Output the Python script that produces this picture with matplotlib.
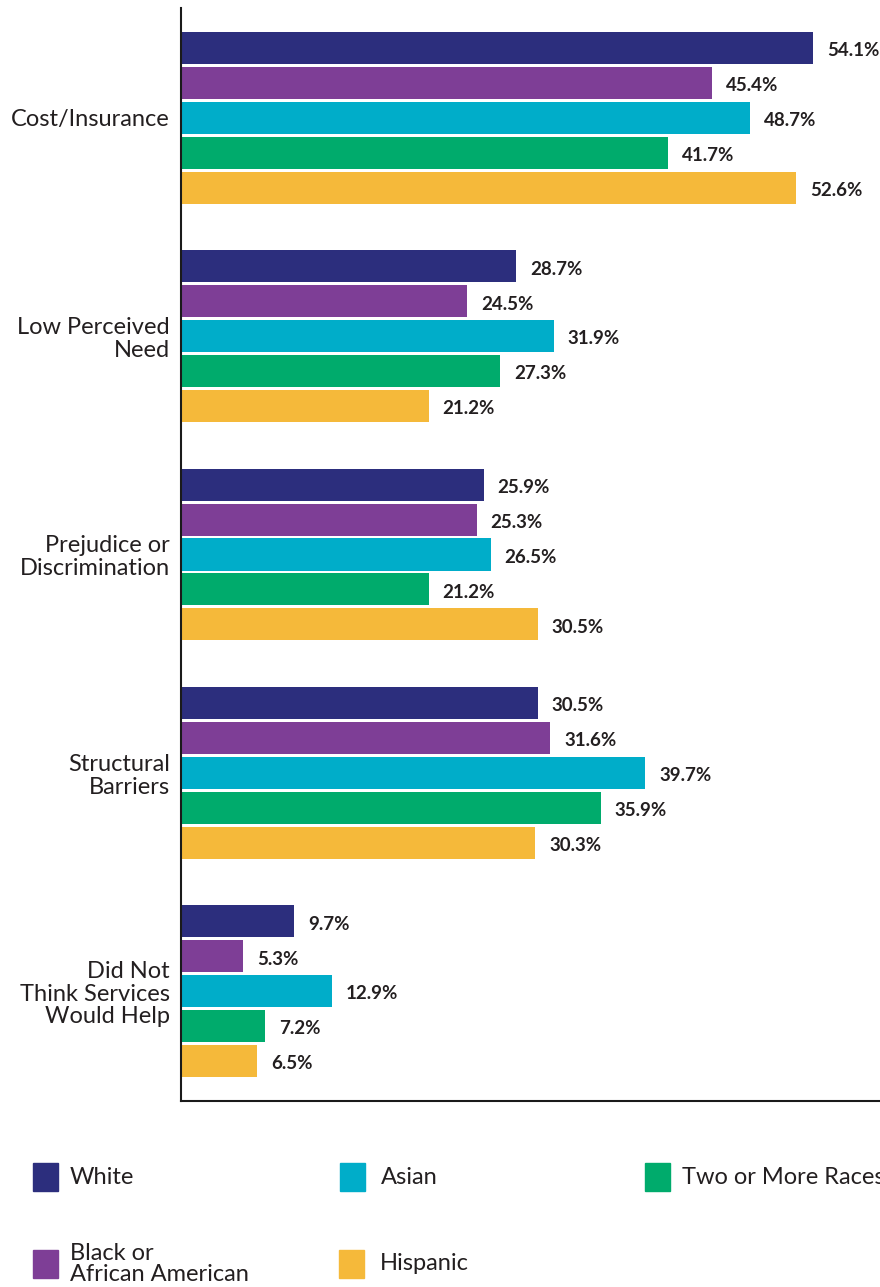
import numpy as np
import matplotlib
matplotlib.use("Agg")
import matplotlib.pyplot as plt
from matplotlib.patches import Rectangle

plt.rcParams['font.family'] = ['Lato', 'DejaVu Sans']

# reasons for not getting care
categories = ["Cost/Insurance", "Low Perceived\nNeed", "Prejudice or\nDiscrimination",
              "Structural\nBarriers", "Did Not\nThink Services\nWould Help"]

groups = ["White", "Black or\nAfrican American", "Asian", "Two or More Races", "Hispanic"]
white = [54.1, 28.7, 25.9, 30.5, 9.7]
black = [45.4, 24.5, 25.3, 31.6, 5.3]
asian = [48.7, 31.9, 26.5, 39.7, 12.9]
two_more = [41.7, 27.3, 21.2, 35.9, 7.2]
hispanic = [52.6, 21.2, 30.5, 30.3, 6.5]
colors = ["#2c2e7d", "#7e3e96", "#00adc9", "#00ab6c", "#f5b93a"]

series = [white, black, asian, two_more, hispanic]
text_col = "#231f20"

fig = plt.figure(figsize=(8.8, 12.87), dpi=100)
ax = fig.add_axes([181/880, 1 - 1101/1287, 1 - 181/880, (1101 - 8)/1287])

y = np.arange(len(categories))
step = 0.16
bar_h = 0.147
for k, (vals, c) in enumerate(zip(series, colors)):
    pos = y + (k - 2) * step
    ax.barh(pos, vals, height=bar_h, color=c)
    for p, v in zip(pos, vals):
        ax.annotate(f"{v}%", (v, p), xytext=(10, -2), textcoords="offset points",
                    ha="left", va="center", fontsize=13.5, fontweight="bold", color=text_col)

ax.set_xlim(0, 59.8)
ax.set_ylim(4.503, -0.503)
ax.set_yticks(y)
ax.set_yticklabels(categories, fontsize=17, color=text_col, linespacing=1.1)
ax.tick_params(axis="y", length=0, pad=8)
ax.set_xticks([])
ax.spines["top"].set_visible(False)
ax.spines["right"].set_visible(False)
ax.spines["left"].set_linewidth(1.5)
ax.spines["bottom"].set_linewidth(1.5)
ax.spines["left"].set_color("#1a1a1a")
ax.spines["bottom"].set_color("#1a1a1a")

# legend, laid out by hand (square x, row y, text x)
W, H = 880, 1287
legend_pos = [(33, 1177, 70), (33, 1264, 70), (340, 1177, 381), (645, 1177, 682), (339, 1264, 380)]
for name, c, (lx, ly, tx) in zip(groups, colors, legend_pos):
    fig.patches.append(Rectangle((lx / W, 1 - (ly + 14) / H), 25 / W, 28 / H,
                                 transform=fig.transFigure, color=c))
    fig.text(tx / W, 1 - ly / H, name, fontsize=17, color=text_col,
             ha="left", va="center", linespacing=1.05)

fig.savefig("out.png", dpi=100)
